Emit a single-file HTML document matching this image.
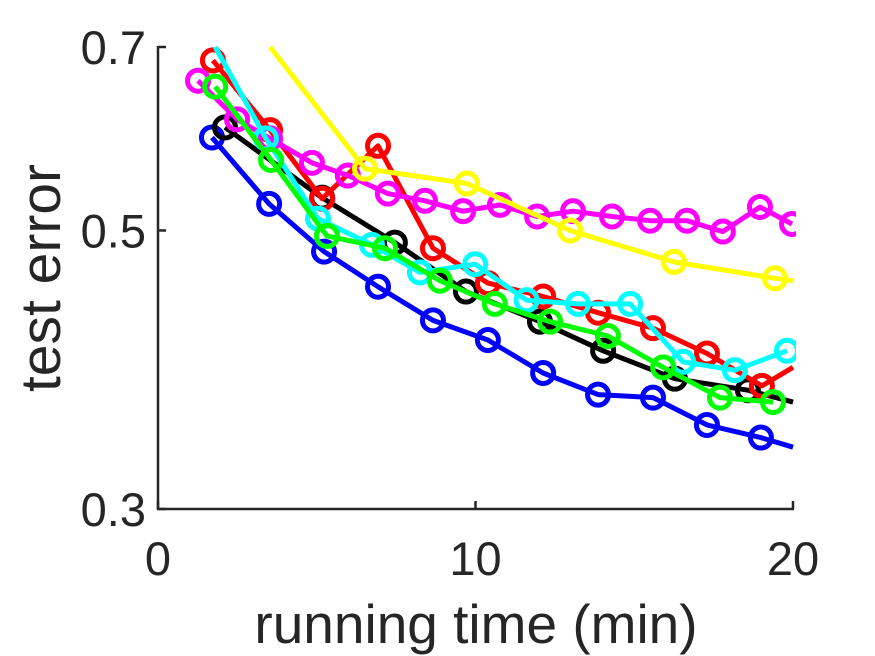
<!DOCTYPE html>
<html><head><meta charset="utf-8"><style>
html,body{margin:0;padding:0;background:#fff}
svg{display:block;font-family:"Liberation Sans",sans-serif}
</style></head><body>
<svg id="chart" width="875" height="656" viewBox="0 0 875 656">
<defs><clipPath id="pa"><rect x="156" y="45" width="640" height="466"/></clipPath></defs>
<g id="series" clip-path="url(#pa)"></g>
<g id="axes"></g>
</svg>
<script>
const xTicks=[0,10,20];
const yTicks=[0.3,0.5,0.7];
const seriesNames=["blue","black","red","magenta","yellow","cyan","green"];
const seriesColors=["#0000ff","#000000","#ff0000","#ff00ff","#ffff00","#00ffff","#00ff00"];
const blueX=[1.70,3.50,5.23,6.93,8.66,10.39,12.13,13.86,15.59,17.29,18.99,20];
const blueY=[0.593,0.525,0.481,0.451,0.424,0.409,0.385,0.370,0.368,0.350,0.342,0.336];
const blackX=[2.11,5.17,7.46,9.70,12.03,14.02,16.28,18.58,20];
const blackY=[0.604,0.531,0.489,0.447,0.423,0.401,0.381,0.373,0.365];
const redX=[1.73,3.53,5.17,6.93,8.66,10.39,12.13,13.86,15.59,17.29,19.02,20];
const redY=[0.683,0.601,0.530,0.584,0.484,0.454,0.443,0.430,0.418,0.399,0.376,0.389];
const magentaX=[1.26,2.49,3.53,4.85,5.98,7.24,8.41,9.61,10.77,11.94,13.07,14.3,15.5,16.66,17.79,18.96,19.97];
const magentaY=[0.658,0.613,0.592,0.566,0.553,0.535,0.528,0.518,0.524,0.513,0.518,0.513,0.509,0.509,0.499,0.522,0.506];
const yellowX=[3.53,6.52,9.73,12.98,16.25,19.43,20];
const yellowY=[0.70,0.560,0.545,0.500,0.472,0.458,0.456];
const cyanX=[1.8,3.4,5.04,6.74,8.25,9.99,11.61,13.23,14.87,16.54,18.17,19.81];
const cyanY=[0.700,0.592,0.511,0.487,0.463,0.470,0.440,0.437,0.437,0.393,0.387,0.401];
const greenX=[1.80,3.56,5.32,7.15,8.88,10.61,12.35,14.17,15.91,17.7,19.37];
const greenY=[0.651,0.569,0.495,0.484,0.456,0.437,0.423,0.412,0.389,0.368,0.365];
const allX=[blueX,blackX,redX,magentaX,yellowX,cyanX,greenX];
const allY=[blueY,blackY,redY,magentaY,yellowY,cyanY,greenY];
const noMarkFirst=[false,false,false,false,true,true,false];
const noMarkLast=[true,true,true,false,true,false,false];

const X0=158,X1=793,Y0=509,Y1=47;
function sx(v){return X0+(v-0)/(20-0)*(X1-X0);}
function sy(v){return Y0-(Math.log(v)-Math.log(0.3))/(Math.log(0.7)-Math.log(0.3))*(Y0-Y1);}
const NS="http://www.w3.org/2000/svg";
function mk(t,a,p){const e=document.createElementNS(NS,t);for(const k in a)e.setAttribute(k,a[k]);p.appendChild(e);return e;}
const g=document.getElementById("series");
for(let s=0;s<allX.length;s++){
  const xs=allX[s],ys=allY[s],c=seriesColors[s];
  const pts=xs.map((x,i)=>sx(x).toFixed(1)+","+sy(ys[i]).toFixed(1)).join(" ");
  const pl=mk("polyline",{points:pts,fill:"none",stroke:c,"stroke-width":5,"stroke-linejoin":"round"},g);
  
  
  for(let i=0;i<xs.length;i++){
    if(i===0&&noMarkFirst[s])continue;
    if(i===xs.length-1&&noMarkLast[s])continue;
    const m=mk("circle",{cx:sx(xs[i]),cy:sy(ys[i]),r:10.5,fill:"none",stroke:c,"stroke-width":5},g);
    
    
  }
}
const ax=document.getElementById("axes");
const col="#262626";
mk("line",{x1:X0,y1:Y1-1,x2:X0,y2:Y0+1,stroke:col,"stroke-width":2.5},ax);
mk("line",{x1:X0-1,y1:Y0,x2:X1+1,y2:Y0,stroke:col,"stroke-width":2.5},ax);
for(const t of xTicks){
  mk("line",{x1:sx(t),y1:Y0,x2:sx(t),y2:Y0-8,stroke:col,"stroke-width":2.5},ax);
  const tx=mk("text",{x:sx(t),y:575,"font-size":47,fill:col,"text-anchor":"middle"},ax);
  tx.textContent=t;
  
  
}
for(const t of yTicks){
  mk("line",{x1:X0,y1:sy(t),x2:X0+8,y2:sy(t),stroke:col,"stroke-width":2.5},ax);
  const tx=mk("text",{x:146,y:sy(t)+17,"font-size":47,fill:col,"text-anchor":"end"},ax);
  tx.textContent=t.toFixed(1);
  
  
}
const xl=mk("text",{x:476,y:643,"font-size":55,fill:col,"text-anchor":"middle"},ax);
xl.textContent="running time (min)";


const yl=mk("text",{x:0,y:0,"font-size":57,fill:col,"text-anchor":"middle",transform:"translate(60,278) rotate(-90)"},ax);
yl.textContent="test error";


</script>
</body></html>
